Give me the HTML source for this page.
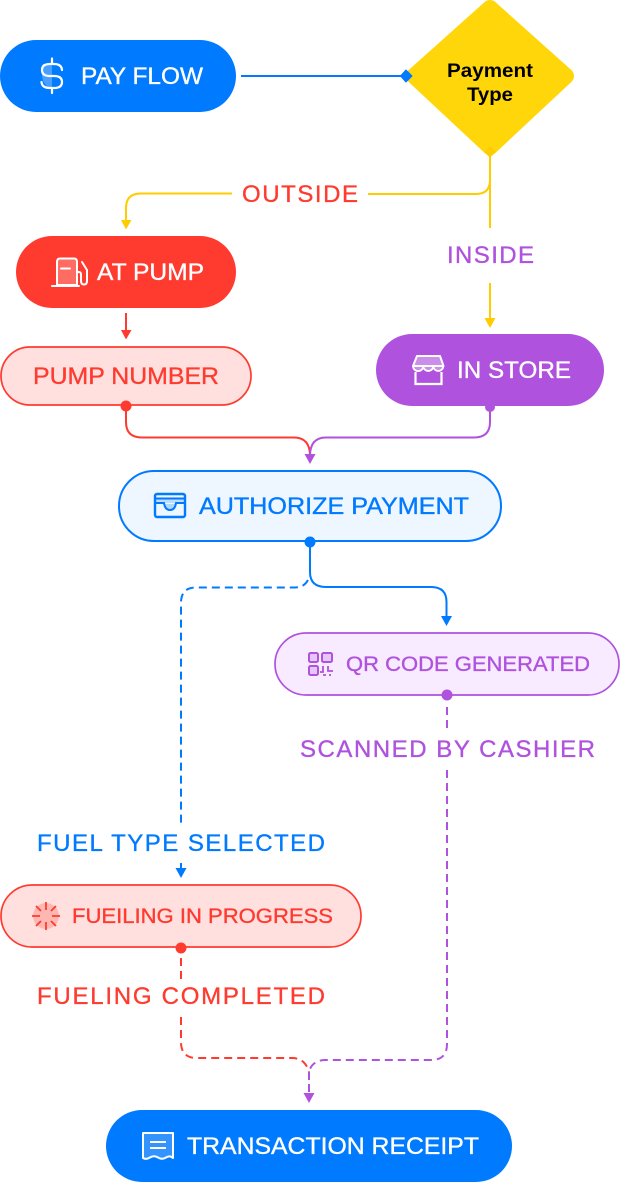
<!DOCTYPE html>
<html><head><meta charset="utf-8"><style>
html,body{margin:0;padding:0;background:#fff}
svg{display:block}
text{font-family:"Liberation Sans",sans-serif;font-size:24px;stroke-width:.35px}
.r{fill:#FF3B30;stroke:#FF3B30}.b{fill:#007AFF;stroke:#007AFF}.p{fill:#AF52DE;stroke:#AF52DE}.w{fill:#fff;stroke:#fff}
</style></head><body>
<svg width="620" height="1182" viewBox="0 0 620 1182" xmlns="http://www.w3.org/2000/svg">
<rect width="620" height="1182" fill="#fff"/>
<!-- connectors -->
<g fill="none" stroke-width="2">
<path d="M241 76H406" stroke="#007AFF"/>
<path d="M490 155V228M490 283V318" stroke="#FFCC00"/>
<path d="M490 180Q490 194 476 194H368M232 193.500H141Q126 193.500 126 208V220" stroke="#FFCC00"/>
<path d="M126 313V331" stroke="#FF3B30"/>
<path d="M126 406V422Q126 437.500 142 437.500H294Q310 437.500 310 456" stroke="#FF3B30"/>
<path d="M490 407V422Q490 437.500 474 437.500H326Q310 437.500 310 456" stroke="#AF52DE"/>
<path d="M310 542V572Q310 587 326 587H431Q446.500 587 446.500 602V618" stroke="#007AFF"/>
<path d="M308 580Q304 587.500 295 587.500H196Q181 587.500 181 603V826M181 863V870" stroke="#007AFF" stroke-dasharray="8 5"/>
<path d="M447 707V728M447 770V1044Q447 1060 431 1060H326Q312 1060 309 1072" stroke="#AF52DE" stroke-dasharray="8 5"/>
<path d="M181 958V980M181 1017V1042Q181 1058 197 1058H292Q305 1058 309 1072" stroke="#FF3B30" stroke-dasharray="8 5"/>
<path d="M309 1072V1096" stroke="#AF52DE" stroke-dasharray="8 4"/>
</g>
<!-- arrowheads -->
<path d="M121 220H131.500L126 229.500Z" fill="#FFCC00"/>
<path d="M484.500 318H495.500L490 328Z" fill="#FFCC00"/>
<path d="M121 330H131.500L126 339.500Z" fill="#FF3B30"/>
<path d="M304.500 454H315.500L310 464Z" fill="#AF52DE"/>
<path d="M441 616H452L446.500 626Z" fill="#007AFF"/>
<path d="M175.500 868H186.500L181 878Z" fill="#007AFF"/>
<path d="M303.500 1093H314.500L309 1103Z" fill="#AF52DE"/>
<!-- diamond -->
<path d="M490 8L566 76L490 147L414 76Z" fill="#FFD60A" stroke="#FFD60A" stroke-width="16" stroke-linejoin="round"/>
<path d="M406 70L412 76L406 82L400.500 76Z" fill="#007AFF" stroke="#007AFF" stroke-linejoin="round"/>
<path d="M490 147L495 152L490 157L485 152Z" fill="#FFCC00" stroke="#FFCC00" stroke-linejoin="round"/>
<text x="447" y="77" textLength="86" lengthAdjust="spacingAndGlyphs" style="font-size:19px;font-weight:700;stroke:none" fill="#000">Payment</text>
<text x="467" y="101" textLength="46" lengthAdjust="spacingAndGlyphs" style="font-size:19px;font-weight:700;stroke:none" fill="#000">Type</text>
<!-- nodes -->
<rect x="0" y="40" width="236" height="72" rx="36" fill="#007AFF"/>
<rect x="16" y="236" width="220" height="72" rx="36" fill="#FF3B30"/>
<rect x="1" y="347" width="250" height="58" rx="29" fill="#FFE0DE" stroke="#FF3B30" stroke-width="1.700"/>
<rect x="376" y="334" width="228" height="72" rx="36" fill="#AF52DE"/>
<rect x="119" y="471" width="382" height="70" rx="35" fill="#EEF6FF" stroke="#007AFF" stroke-width="2"/>
<rect x="275" y="633" width="344" height="62" rx="31" fill="#F9EBFF" stroke="#AF52DE" stroke-width="1.700"/>
<rect x="1" y="885" width="360" height="62" rx="31" fill="#FFE0DE" stroke="#FF3B30" stroke-width="1.700"/>
<rect x="106" y="1110" width="406" height="72" rx="36" fill="#007AFF"/>
<!-- dots -->
<circle cx="126" cy="406" r="5.500" fill="#FF3B30"/>
<circle cx="490" cy="407" r="5" fill="#AF52DE"/>
<circle cx="310" cy="542" r="5.500" fill="#007AFF"/>
<circle cx="447" cy="695" r="5.500" fill="#AF52DE"/>
<circle cx="181" cy="948" r="5.500" fill="#FF3B30"/>
<!-- labels -->
<text x="81" y="84" textLength="122" lengthAdjust="spacingAndGlyphs" class="w">PAY FLOW</text>
<text x="97" y="280" textLength="107" lengthAdjust="spacingAndGlyphs" class="w">AT PUMP</text>
<text x="33" y="384" textLength="186" lengthAdjust="spacingAndGlyphs" class="r">PUMP NUMBER</text>
<text x="457" y="378" textLength="114" lengthAdjust="spacingAndGlyphs" class="w">IN STORE</text>
<text x="199" y="514" textLength="270" lengthAdjust="spacingAndGlyphs" class="b">AUTHORIZE PAYMENT</text>
<text x="346" y="671" textLength="244" lengthAdjust="spacingAndGlyphs" style="font-size:21px" class="p">QR CODE GENERATED</text>
<text x="72" y="923" textLength="261" lengthAdjust="spacingAndGlyphs" style="font-size:21px" class="r">FUEILING IN PROGRESS</text>
<text x="187" y="1154" textLength="292" lengthAdjust="spacingAndGlyphs" class="w">TRANSACTION RECEIPT</text>
<text x="242" y="202" textLength="116" lengthAdjust="spacing" class="r">OUTSIDE</text>
<text x="447" y="263" textLength="87" lengthAdjust="spacing" class="p">INSIDE</text>
<text x="300" y="757" textLength="295" lengthAdjust="spacing" class="p">SCANNED BY CASHIER</text>
<text x="37" y="851" textLength="288" lengthAdjust="spacing" class="b">FUEL TYPE SELECTED</text>
<text x="37" y="1004" textLength="288" lengthAdjust="spacing" class="r">FUELING COMPLETED</text>
<!-- dollar icon -->
<path d="M43 64H52V88H50Q43 85 42 76V66Z" fill="#fff" opacity=".28"/>
<path d="M62 70Q61.500 64 54 64H50Q42 64 42 70Q42 76 50 76H54Q62 76 62 82Q62 88 54 88H50Q42 88 41.500 82M52 58.500V64M52 88V93" fill="none" stroke="#fff" stroke-width="2.200" stroke-linecap="round"/>
<!-- pump icon -->
<path d="M57 285V262Q57 258.500 60 258.500H74Q77 258.500 77 262V285Z" fill="#fff" fill-opacity=".25" stroke="#fff" stroke-width="2"/>
<path d="M52 286H79M61 268.500H70M77 272H79Q81 272 81 275V281Q81 284.500 84 284.500T87 281V270L82 262" fill="none" stroke="#fff" stroke-width="2" stroke-linecap="round"/>
<!-- store icon -->
<path d="M417 356H440L443.500 366H413Z" fill="#fff" fill-opacity=".35" stroke="#fff" stroke-width="2" stroke-linejoin="round"/>
<path d="M413 366a5 5 0 0 0 10.300 0a5 5 0 0 0 10 0a5 5 0 0 0 10 0" fill="#fff" fill-opacity=".35" stroke="#fff" stroke-width="1.800"/>
<path d="M415.500 372V384H441.500V372" fill="none" stroke="#fff" stroke-width="2.200"/>
<!-- wallet icon -->
<rect x="155" y="494" width="30" height="23" rx="2" fill="none" stroke="#007AFF" stroke-width="2.400"/>
<path d="M155 498.500H185M155 503H164Q165 510 170 510T176 503H185" fill="none" stroke="#007AFF" stroke-width="2"/>
<path d="M164 504Q165 509 170 509T176 504Z" fill="#007AFF" fill-opacity=".25"/>
<rect x="156" y="498" width="28" height="5" fill="#007AFF" fill-opacity=".2"/>
<!-- qr icon -->
<g fill="#AF52DE" fill-opacity=".25" stroke="#AF52DE" stroke-width="2">
<rect x="309" y="653" width="9" height="9" rx="1.500"/>
<rect x="322" y="653" width="10" height="9" rx="1.500"/>
<rect x="309" y="666" width="9" height="9" rx="1.500"/>
</g>
<path d="M323 666V672H320M328 666V671H333M323 675H326M330 674V676" fill="none" stroke="#AF52DE" stroke-width="1.800"/>
<!-- spinner icon -->
<circle cx="46" cy="916" r="13" fill="#FF3B30" fill-opacity=".25"/>
<path d="M46 902V910M46 922V930M32 916H40M52 916H60M36 906L41 911M51 921L56 926M36 926L41 921M51 911L56 906" fill="none" stroke="#FF3B30" stroke-width="1.800"/>
<!-- receipt icon -->
<path d="M143 1133H173V1158Q170 1155 166 1157.500T158 1157.500T150 1157.500T143 1158Z" fill="#fff" fill-opacity=".2" stroke="#fff" stroke-width="2" stroke-linejoin="round"/>
<path d="M150 1142H166M150 1148H166" fill="none" stroke="#fff" stroke-width="2"/>
</svg>
</body></html>
